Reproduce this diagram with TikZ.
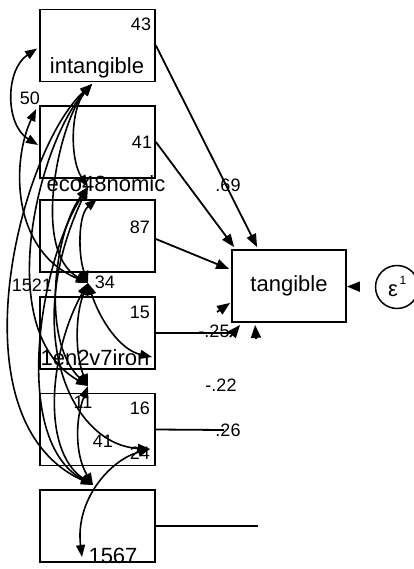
\documentclass[tikz,border=0pt]{standalone}
\usepackage{fontspec}
\setmainfont{Liberation Sans}
\usetikzlibrary{arrows.meta,calc}

\begin{document}
\begin{tikzpicture}[x=1pt,y=-1pt,
  var/.style={draw,line width=1.8pt,minimum width=115pt,minimum height=72pt,inner sep=0pt},
  lbl/.style={font=\fontsize{22}{22}\selectfont,inner sep=0pt},
  num/.style={font=\fontsize{18}{18}\selectfont,inner sep=0pt},
  reg/.style={line width=1.8pt,-{Triangle[length=13pt,width=10pt]}},
  cov/.style={line width=1.6pt,{Triangle[length=12pt,width=9pt]}-{Triangle[length=12pt,width=9pt]}}]
\useasboundingbox (0,0) rectangle (414,569);

\node[var] (intangible) at (97.5,45.5) {};
\node[var] (economic) at (97.5,142) {};
\node[var] (box3) at (97.5,236) {};
\node[var] (environ) at (97.5,333) {};
\node[var] (box5) at (97.5,429.5) {};
\node[var] (box6) at (97.5,526) {};
\node[var,font=\fontsize{22}{22}\selectfont,minimum width=114pt] (tangible) at (289,286) {tangible};
\node[draw,circle,line width=1.5pt,minimum size=43pt,inner sep=0pt] (eps) at (397,287) {};
\node[lbl] (epslbl) at (393,291) {ε};
\node[font=\fontsize{12}{12}\selectfont,inner sep=0pt] (epsidx) at (403,280) {1};

\node[num] (v1) at (141,24) {43};
\node[num] (v2) at (142,142) {41};
\node[num] (v3) at (140,227) {87};
\node[num] (v4) at (140,312) {15};
\node[num] (v5) at (140,408) {16};

\node[lbl] (lbl1) at (97,68) {intangible};
\node[lbl] (lbl2) at (106,184) {eco48nomic};
\node[lbl] (lbl4) at (95,358) {1en2v7iron};
\node[lbl] (lbl6) at (113,556) {1567};

\coordinate (c1) at (92,84);
\coordinate (c2) at (88,187);
\coordinate (c3) at (88,283);
\coordinate (c4) at (88,386);
\coordinate (c5) at (93,485);
\coordinate (e4) at (152,357);
\coordinate (e5) at (150,449);
\coordinate (f6) at (82,557);
\coordinate (h4) at (217,312);
\coordinate (h5) at (230,337);
\coordinate (h6) at (256,339);

\draw[reg] (intangible.east) -- ($(tangible.north west)+(26,-2)$);
\draw[reg] (economic.east) -- ($(tangible.north west)+(3,-2)$);
\draw[reg] ($(box3.east)+(0,3)$) -- ($(tangible.west)+(-2,-17)$);
\draw[line width=1.8pt] (environ.east) -- (235,333);
\draw[line width=1.8pt] (box5.east) -- (224,430);
\draw[line width=1.8pt] (box6.east) -- (258,526);
\draw[reg] (h4) -- ($(tangible.south west)+(-1,-20)$);
\draw[reg] (h5) -- ($(tangible.south west)+(9,2)$);
\draw[reg] (h6) -- ($(tangible.south west)+(24,2)$);
\draw[reg,shorten <=17pt] (eps) -- (tangible);

\node[num] (b1) at (228,185) {.69};
\node[num] (b4) at (214,331) {-.25};
\node[num] (b3) at (221,385) {-.22};
\node[num] (b5) at (228,430) {.26};

\draw[cov] ($(intangible.west)+(-2,3)$) .. controls (5,70) and (5,125) .. ($(economic.west)+(-1,3)$);
\draw[cov] ($(economic.north west)+(-3,4)$) .. controls (12,160) and (10,250) .. (c3);
\draw[cov] (c1) .. controls (20,150) and (-50,420) .. (c5);
\draw[cov] (c1) .. controls (40,140) and (-10,330) .. (c4);
\draw[cov] (c1) .. controls (60,120) and (30,250) .. (c3);
\draw[cov] (c1) .. controls (70,110) and (70,160) .. (c2);
\draw[cov] ($(c2)+(9,12)$) .. controls (78,215) and (78,255) .. (c3);
\draw[cov] (c2) .. controls (55,230) and (40,340) .. (c4);
\draw[cov] (c2) .. controls (40,260) and (10,440) .. (c5);
\draw[cov] (c3) .. controls (75,315) and (75,355) .. (c4);
\draw[cov] (c3) .. controls (50,350) and (40,450) .. (c5);
\draw[cov] (c4) .. controls (75,420) and (75,455) .. (c5);
\draw[cov] (c3) .. controls (100,320) and (120,350) .. (e4);
\draw[cov] (c2) .. controls (20,330) and (70,445) .. (e5);
\draw[cov] (e5) .. controls (110,460) and (75,500) .. (f6);

\node[num] (r12) at (30,98) {50};
\node[num] (r15) at (32,285) {1521};
\node[num] (r23) at (105,282) {34};
\node[num] (r34) at (83,402) {11};
\node[num] (r45) at (103,441) {41};
\node[num] (r56) at (140,453) {24};
\end{tikzpicture}
\end{document}
